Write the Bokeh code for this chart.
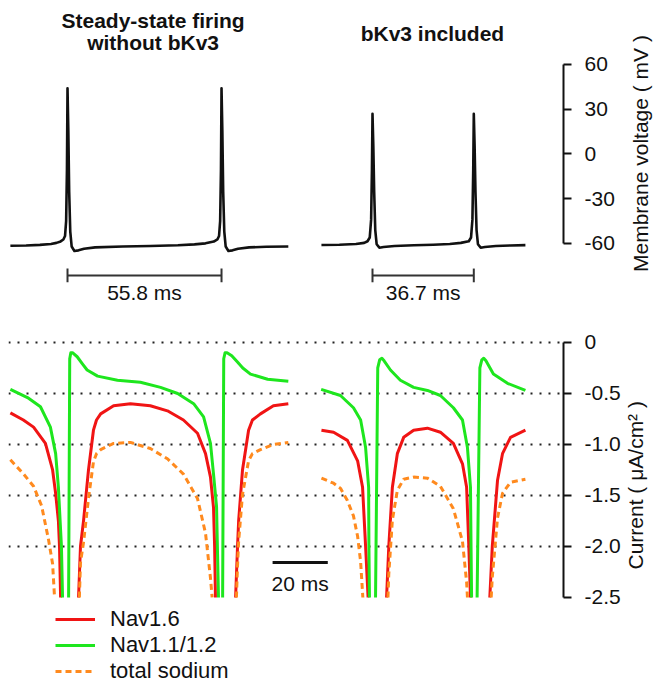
import math
from bokeh.plotting import figure
from bokeh.models import Range1d, FixedTicker, Label, Legend, LegendItem
from bokeh.layouts import column, row
from bokeh.embed import file_html
from bokeh.resources import INLINE

NaN = float("nan")

# ---------------- data ----------------
isi_left = 55.8          # ms, steady-state firing without bKv3
isi_right = 36.7         # ms, bKv3 included
scale_bar_ms = 20

v_ticks = [-60, -30, 0, 30, 60]
v_tick_labels = ["-60", "-30", "0", "30", "60"]
i_ticks = [-2.5, -2.0, -1.5, -1.0, -0.5, 0]
i_tick_labels = ["-2.5", "-2.0", "-1.5", "-1.0", "-0.5", "0"]
i_grid = [-2.0, -1.5, -1.0, -0.5, 0]

# membrane voltage (mV), without bKv3; time (ms) relative to first spike
vl_t = [-20.7, -15, -10, -6, -4, -2.5, -1.5, -0.9, -0.5, -0.2,
        0.0, 0.3, 0.6, 1.0, 1.5, 2.5, 4, 6, 10, 20,
        30, 40, 46, 50, 53, 54.3, 54.9, 55.3, 55.6, 55.8,
        56.1, 56.4, 56.8, 57.3, 58.3, 59.8, 61.8, 65.8, 72, 80]
vl_v = [-61.5, -61.3, -60.9, -60.3, -59.6, -58.6, -57.3, -55, -45, -10,
        44, 15, -25, -52, -62, -65, -64.6, -63.5, -62.6, -62.0,
        -61.7, -61.2, -60.6, -59.9, -58.7, -57.3, -55, -45, -10, 44,
        15, -25, -52, -62, -65, -64.6, -63.5, -62.6, -62.2, -62.0]

# membrane voltage (mV), bKv3 included
vr_t = [-18.5, -12, -6, -3, -1.8, -1.0, -0.5, -0.2, 0.0, 0.3,
        0.6, 1.0, 1.5, 2.5, 4, 8, 15, 22, 28, 32,
        34.9, 35.7, 36.2, 36.5, 36.7, 37.0, 37.3, 37.7, 38.2, 39.2,
        40.7, 44.7, 50, 55.4]
vr_v = [-61.0, -60.8, -60.3, -59.6, -58.5, -56, -44, -10, 27, 5,
        -25, -51, -60.5, -62.8, -62.4, -61.7, -61.2, -60.8, -60.3, -59.6,
        -58.5, -56, -44, -10, 27, 5, -25, -51, -60.5, -62.8,
        -62.4, -61.7, -61.3, -61.1]

# currents (uA/cm2), without bKv3 (values below -2.5 are off scale)
nav16_l_t = [-20.7, -16, -12.3, -8, -5.4, -4.3, -3.3, -2.9, -2.5, NaN,
             4.0, 4.7, 5.8, 7.6, 9.4, 10.5, 12, 16.7, 22.8, 30, 36.2, 42, 47.1, 50, 51.8, 52.9, 53.3, 53.6, NaN,
             60.9, 61.6, 62.0, 63.4, 65.6, 67.0, 69.9, 74.6, 80]
nav16_l_i = [-0.69, -0.76, -0.83, -0.99, -1.25, -1.48, -1.75, -2.0, -2.5, NaN,
             -2.5, -2.0, -1.75, -1.25, -0.86, -0.76, -0.70, -0.62, -0.60, -0.62, -0.67, -0.76, -0.89, -1.09, -1.32, -1.62, -2.0, -2.5, NaN,
             -2.5, -2.0, -1.75, -1.25, -0.86, -0.76, -0.70, -0.62, -0.60]

nav11_l_t = [-20.7, -14.5, -9.8, -6.2, -4.3, -3.3, -2.2, -1.8, NaN,
             0.4, 0.8, 1.2, 1.8, 3.5, 5.4, 7.1, 10.9, 18.1, 26.4, 33.7, 39.9, 45.7, 49.3, 51.8, 52.9, 54.0, 54.3, 54.7, NaN,
             56.2, 56.6, 57.1, 57.8, 59.5, 61.5, 63.5, 66.3, 72.5, 80]
nav11_l_i = [-0.46, -0.54, -0.63, -0.83, -1.09, -1.42, -2.0, -2.5, NaN,
             -2.5, -0.16, -0.10, -0.10, -0.14, -0.21, -0.27, -0.33, -0.37, -0.39, -0.44, -0.50, -0.60, -0.73, -0.99, -1.29, -1.61, -2.0, -2.5, NaN,
             -2.5, -0.16, -0.10, -0.10, -0.13, -0.19, -0.25, -0.31, -0.36, -0.38]

total_l_t = [-20.7, -15.9, -12.3, -9.4, -6.9, -5.4, -4.7, NaN,
             4.3, 4.7, 5.8, 7.6, 9.4, 10.5, 12, 16.7, 22.8, 30, 36.2, 42, 47.1, 50, 51.8, 52.4, NaN,
             61.2, 61.6, 62.0, 63.4, 65.6, 67.0, 69.9, 74.6, 80]
total_l_i = [-1.15, -1.29, -1.41, -1.60, -1.93, -2.17, -2.5, NaN,
             -2.5, -2.16, -1.96, -1.53, -1.17, -1.09, -1.05, -0.99, -0.98, -1.04, -1.14, -1.29, -1.53, -1.87, -2.31, -2.5, NaN,
             -2.5, -2.19, -1.95, -1.49, -1.16, -1.09, -1.05, -1.0, -0.98]

# currents, bKv3 included; time relative to first spike of that trace
nav16_r_t = [-18.5, -14.1, -9.1, -5.4, -3.6, -2.5, -1.6, NaN,
             5.1, 5.9, 7.2, 9.0, 11.3, 14.9, 19.9, 24.6, 29.3, 32.6, 34.1, 34.9, 35.5, NaN,
             42.5, 43.4, 45.3, 47.1, 50.0, 55.4]
nav16_r_i = [-0.86, -0.88, -0.96, -1.16, -1.42, -2.0, -2.5, NaN,
             -2.5, -2.0, -1.42, -1.09, -0.93, -0.86, -0.84, -0.88, -0.99, -1.19, -1.42, -2.0, -2.5, NaN,
             -2.5, -2.0, -1.35, -1.09, -0.93, -0.86]

nav11_r_t = [-18.6, -11.6, -6.9, -4.3, -2.5, -1.4, -1.3, -1.1, NaN,
             1.1, 1.9, 2.6, 3.4, 4.2, 6.5, 10.1, 14.9, 19.9, 24.6, 29.3, 32.6, 34.4, 35.5, 35.7, 35.9, NaN,
             37.9, 38.9, 39.6, 40.3, 41.1, 43.8, 48.9, 55.4]
nav11_r_i = [-0.46, -0.52, -0.64, -0.76, -1.03, -1.42, -2.0, -2.5, NaN,
             -2.5, -0.25, -0.17, -0.155, -0.18, -0.27, -0.37, -0.44, -0.47, -0.52, -0.64, -0.76, -1.03, -1.42, -2.0, -2.5, NaN,
             -2.5, -0.25, -0.17, -0.155, -0.18, -0.31, -0.40, -0.47]

total_r_t = [-18.5, -14.1, -11.6, -9.1, -6.9, -5.4, -4.3, -3.5, NaN,
             5.6, 5.9, 7.2, 9.0, 11.3, 14.9, 19.9, 24.6, 29.3, 32.6, 34.1, 34.4, NaN,
             43.0, 43.4, 45.3, 47.1, 50.0, 55.4]
total_r_i = [-1.33, -1.38, -1.43, -1.55, -1.70, -1.90, -2.15, -2.5, NaN,
             -2.5, -2.27, -1.74, -1.45, -1.34, -1.32, -1.33, -1.41, -1.63, -1.95, -2.35, -2.5, NaN,
             -2.5, -2.3, -1.72, -1.48, -1.37, -1.34]

# ---------------- layout / style constants ----------------
RIGHT_OFFSET = 110.5      # ms, horizontal placement of the bKv3 traces
X_RANGE = (-21.38, 179.7)
FRAME_W = 555
PAD = 8
AXIS_W = 60
TITLE_W = 32
FONT = "Liberation Sans"
RED = "#f01414"
GREEN = "#1ee61e"
ORANGE = "#ff8a1e"
INK = "#111111"

def shift(ts, off):
    return [t + off for t in ts]

def base_fig(frame_h, yr, top):
    p = figure(frame_width=FRAME_W, frame_height=frame_h,
               x_range=Range1d(*X_RANGE), y_range=yr,
               x_axis_location=None, y_axis_location="right",
               output_backend="svg", toolbar_location=None,
               min_border=0, min_border_left=PAD, min_border_right=AXIS_W,
               min_border_top=top, min_border_bottom=0)
    p.outline_line_color = None
    p.xgrid.visible = False
    ax = p.yaxis[0]
    ax.axis_line_width = 2
    ax.axis_line_color = INK
    ax.major_tick_line_width = 2
    ax.major_tick_line_color = INK
    ax.major_tick_in = 0
    ax.major_tick_out = 8
    ax.minor_tick_line_color = None
    ax.major_label_standoff = 13
    ax.major_label_text_font = FONT
    ax.major_label_text_font_size = "21px"
    ax.major_label_text_color = INK
    return p

def title_fig(frame_h, yr, top, xfrac, y, s):
    t = figure(frame_width=TITLE_W, frame_height=frame_h,
               x_range=Range1d(0, 1), y_range=yr,
               x_axis_location=None, y_axis_location=None,
               output_backend="svg", toolbar_location=None,
               min_border=0, min_border_left=0, min_border_right=0,
               min_border_top=top, min_border_bottom=0)
    t.outline_line_color = None
    t.grid.visible = False
    t.xgrid.visible = False
    t.ygrid.visible = False
    t.add_layout(Label(x=xfrac, y=y, text=s, angle=math.pi / 2, angle_units="rad",
                       text_align="center", text_baseline="middle",
                       text_font=FONT, text_font_size="21px", text_color=INK))
    return t

# ---------------- voltage figure ----------------
v_range = Range1d(-103.58, 97.54)
p1 = base_fig(300, v_range, PAD)
p1.ygrid.visible = False
ax1 = p1.yaxis[0]
ax1.ticker = FixedTicker(ticks=v_ticks)
ax1.major_label_overrides = {t: s for t, s in zip(v_ticks, v_tick_labels)}
ax1.bounds = (min(v_ticks), max(v_ticks))
t1 = title_fig(300, v_range, PAD, 0.53, 0.3, "Membrane voltage ( mV )")

p1.line(vl_t, vl_v, line_color=INK, line_width=2.6, line_join="round")
p1.line(shift(vr_t, RIGHT_OFFSET), vr_v, line_color=INK, line_width=2.6, line_join="round")

# inter-spike interval bars
BAR_Y = -81.4
CAP = 4.6
for x0, isi in [(0.0, isi_left), (RIGHT_OFFSET, isi_right)]:
    p1.segment(x0=[x0], y0=[BAR_Y], x1=[x0 + isi], y1=[BAR_Y], line_color="#333333", line_width=2)
    p1.segment(x0=[x0, x0 + isi], y0=[BAR_Y - CAP] * 2, x1=[x0, x0 + isi], y1=[BAR_Y + CAP] * 2,
               line_color="#333333", line_width=2)
    p1.add_layout(Label(x=x0 + isi / 2, y=-92.8, text=f"{isi} ms", text_align="center",
                        text_baseline="middle", text_font=FONT, text_font_size="21px",
                        text_color=INK))

for x, y, s in [(31, 89.5, "Steady-state firing"), (31, 74.7, "without bKv3"),
                (132.2, 80.8, "bKv3 included")]:
    p1.add_layout(Label(x=x, y=y, text=s, text_align="center", text_baseline="middle",
                        text_font=FONT, text_font_size="21px", text_font_style="bold",
                        text_color=INK))

# ---------------- current figure ----------------
i_range = Range1d(-3.353, 0.333)
p2 = base_fig(376, i_range, 0)
ax2 = p2.yaxis[0]
ax2.ticker = FixedTicker(ticks=i_ticks)
ax2.major_label_overrides = {t: s for t, s in zip(i_ticks, i_tick_labels)}
ax2.bounds = (min(i_ticks), max(i_ticks))
t2 = title_fig(376, i_range, 0, 0.38, -1.40, "Current ( \u03bcA/cm\u00b2 )")
p2.ygrid.ticker = FixedTicker(ticks=i_grid)
p2.ygrid.grid_line_color = "#222222"
p2.ygrid.grid_line_width = 2
p2.ygrid.grid_line_dash = "2 7"

lw = 3
r16 = p2.line(nav16_l_t, nav16_l_i, line_color=RED, line_width=lw, line_join="round")
p2.line(shift(nav16_r_t, RIGHT_OFFSET), nav16_r_i, line_color=RED, line_width=lw, line_join="round")
r11 = p2.line(nav11_l_t, nav11_l_i, line_color=GREEN, line_width=lw, line_join="round")
p2.line(shift(nav11_r_t, RIGHT_OFFSET), nav11_r_i, line_color=GREEN, line_width=lw, line_join="round")
rt = p2.line(total_l_t, total_l_i, line_color=ORANGE, line_width=lw, line_dash="6 4")
p2.line(shift(total_r_t, RIGHT_OFFSET), total_r_i, line_color=ORANGE, line_width=lw, line_dash="6 4")

# time scale bar
SB_X0 = 74.3
p2.segment(x0=[SB_X0], y0=[-2.157], x1=[SB_X0 + scale_bar_ms], y1=[-2.157],
           line_color=INK, line_width=3)
p2.add_layout(Label(x=SB_X0 + scale_bar_ms / 2, y=-2.36, text=f"{scale_bar_ms} ms",
                    text_align="center", text_baseline="middle", text_font=FONT,
                    text_font_size="21px", text_color=INK))

legend = Legend(items=[LegendItem(label="Nav1.6", renderers=[r16]),
                       LegendItem(label="Nav1.1/1.2", renderers=[r11]),
                       LegendItem(label="total sodium", renderers=[rt])],
                location=(47, 0), orientation="vertical",
                glyph_width=40, glyph_height=26, label_height=26, label_standoff=15,
                spacing=0, padding=0, margin=0,
                label_text_font=FONT, label_text_font_size="22px", label_text_color=INK,
                background_fill_alpha=0, border_line_color=None)
p2.add_layout(legend)

layout = column(row(p1, t1, spacing=0), row(p2, t2, spacing=0), spacing=0)
open("out.html", "w").write(file_html(layout, INLINE))
